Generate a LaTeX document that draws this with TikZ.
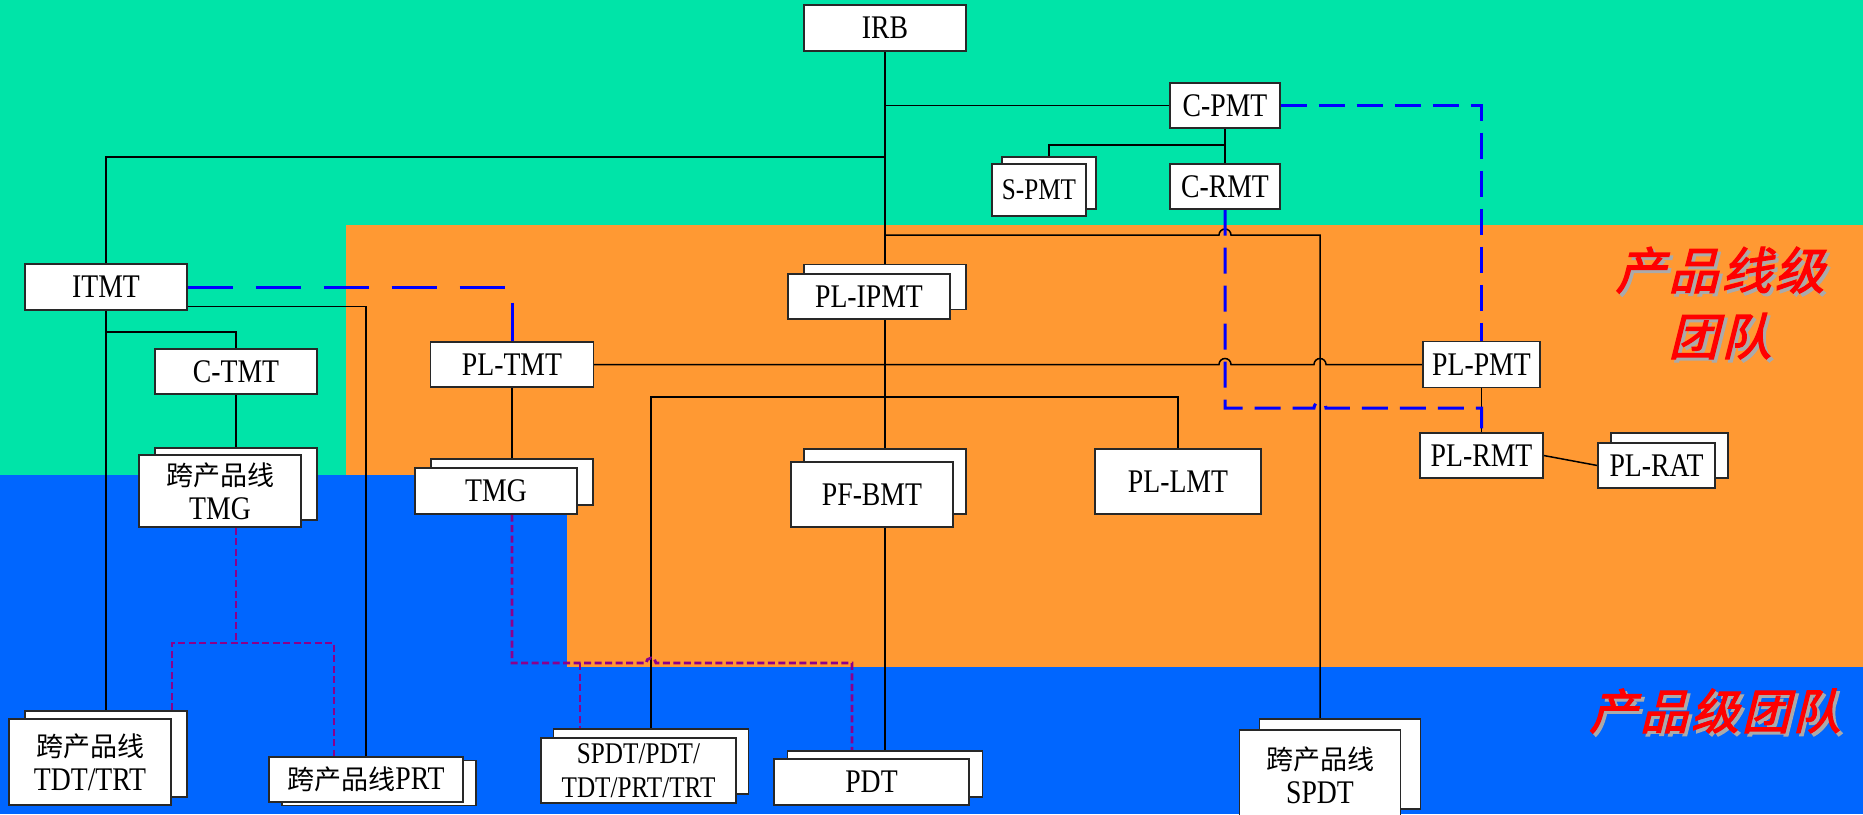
\documentclass[tikz,border=0pt]{standalone}
\usepackage{fontspec}
\setmainfont{Liberation Serif}[FakeStretch=0.84]
\newfontfamily\cjk{Noto Sans CJK SC}
\newfontfamily\redcjk{Noto Sans CJK SC}[FakeSlant=0.25,FakeBold=2.5,LetterSpace=6]
\usetikzlibrary{calc}
\pgfdeclarelayer{bg}\pgfdeclarelayer{lines}
\pgfsetlayers{bg,lines,main}
\definecolor{bggreen}{RGB}{0,228,168}
\definecolor{bgorange}{RGB}{255,153,51}
\definecolor{bgblue}{RGB}{0,102,255}
\definecolor{dashblue}{RGB}{0,0,255}
\definecolor{dpurple}{RGB}{140,0,140}
\definecolor{redtxt}{RGB}{255,0,0}
\definecolor{shadowgray}{RGB}{170,170,170}
\definecolor{boxline}{RGB}{40,40,40}
\newcommand\cjkt[1]{{\cjk\fontsize{27}{34}\selectfont #1}}
\begin{document}
\begin{tikzpicture}[x=1pt,y=-1pt,
  box/.style={draw=boxline, fill=white, line width=1.3pt, inner sep=0pt, align=center, font=\fontsize{33}{34}\selectfont},
  smallbox/.style={box, font=\fontsize{30}{34}\selectfont},
  conn/.style={line width=1.5pt, black},
  bluedash/.style={dashblue, line width=3pt, dash pattern=on 26pt off 12pt},
  bluelong/.style={dashblue, line width=3pt, dash pattern=on 45pt off 23pt},
  purpdash/.style={dpurple, line width=2.8pt, dash pattern=on 7pt off 3.5pt},
  redlabel/.style={font=\redcjk\fontsize{50}{66}\selectfont, inner sep=0pt, align=center}]
\useasboundingbox (0,0) rectangle (1863,814);
\begin{pgfonlayer}{bg}
  \fill[bggreen] (0,0) rectangle (1863,814);
  \fill[bgblue] (0,475) rectangle (1863,814);
  \fill[bgorange] (346,225) rectangle (1863,475);
  \fill[bgorange] (567,475) rectangle (1863,667);
\end{pgfonlayer}

% ---------- nodes ----------
\node[box, minimum width=162pt, minimum height=46pt] (irb) at (885,28) {IRB};
\node[box, minimum width=110pt, minimum height=45pt] (cpmt) at (1225,105.5) {C-PMT};
\node[box, minimum width=110pt, minimum height=45pt] (crmt) at (1225,186.5) {C-RMT};
\node[smallbox, minimum width=94pt, minimum height=52pt] (spmtB) at (1049,183) {};
\node[smallbox, minimum width=94pt, minimum height=52pt] (spmt) at (1039,190) {S-PMT};
\node[box, minimum width=162pt, minimum height=46pt] (itmt) at (106,287) {ITMT};
\node[box, minimum width=162pt, minimum height=45pt] (ctmt) at (236,371.5) {C-TMT};
\node[box, minimum width=162pt, minimum height=72pt] (ctmgB) at (236,484) {};
\node[box, minimum width=162pt, minimum height=72pt] (ctmg) at (220,491) {\cjkt{跨产品线}\\TMG};
\node[box, minimum width=162pt, minimum height=86pt] (ctdtB) at (106,754) {};
\node[box, minimum width=162pt, minimum height=86pt] (ctdt) at (90,762) {\cjkt{跨产品线}\\TDT/TRT};
\node[box, minimum width=194pt, minimum height=45pt] (cprtB) at (379,783) {};
\node[box, minimum width=194pt, minimum height=45pt] (cprt) at (366,779.5) {\cjkt{跨产品线}PRT};
\node[box, minimum width=163pt, minimum height=45pt] (pltmt) at (512,364.5) {PL-TMT};
\node[box, minimum width=162pt, minimum height=46pt] (tmgB) at (512,482) {};
\node[box, minimum width=162pt, minimum height=46pt] (tmg) at (496,491) {TMG};
\node[box, minimum width=162pt, minimum height=45pt] (ipmtB) at (885,287) {};
\node[box, minimum width=162pt, minimum height=45pt] (ipmt) at (869,296.5) {PL-IPMT};
\node[box, minimum width=162pt, minimum height=65pt] (pfbmtB) at (885,481.5) {};
\node[box, minimum width=162pt, minimum height=65pt] (pfbmt) at (872,494.5) {PF-BMT};
\node[box, minimum width=166pt, minimum height=65pt] (pllmt) at (1178,481.5) {PL-LMT};
\node[box, minimum width=195pt, minimum height=46pt] (pdtB) at (885,774) {};
\node[box, minimum width=195pt, minimum height=46pt] (pdt) at (871.5,782) {PDT};
\node[smallbox, minimum width=195pt, minimum height=65pt] (spdtB) at (651,761.5) {};
\node[smallbox, minimum width=195pt, minimum height=65pt] (spdt) at (638.5,770.5) {SPDT/PDT/\\TDT/PRT/TRT};
\node[box, minimum width=161pt, minimum height=90pt] (cspdtB) at (1340,764) {};
\node[box, minimum width=161pt, minimum height=90pt] (cspdt) at (1320,775) {\cjkt{跨产品线}\\SPDT};
\node[box, minimum width=117pt, minimum height=46pt] (plpmt) at (1481.5,364.5) {PL-PMT};
\node[box, minimum width=123pt, minimum height=45pt] (plrmt) at (1481.5,455.5) {PL-RMT};
\node[box, minimum width=117pt, minimum height=45pt] (plratB) at (1669.5,455.5) {};
\node[box, minimum width=117pt, minimum height=45pt] (plrat) at (1656.5,465.5) {PL-RAT};

% red labels with shadow
\node[redlabel, text=shadowgray] (lvl1s) at (1723,306) {产品线级\\团队};
\node[redlabel, text=redtxt] (lvl1) at (1720,303) {产品线级\\团队};
\node[redlabel, text=shadowgray, font=\redcjk\fontsize{48}{66}\selectfont] (lvl2s) at (1718,714) {产品级团队};
\node[redlabel, text=redtxt, font=\redcjk\fontsize{48}{66}\selectfont] (lvl2) at (1715,711) {产品级团队};

% ---------- connectors ----------
\begin{pgfonlayer}{lines}
  \coordinate (yA) at (0,157);
  \coordinate (yB) at (0,235);
  \coordinate (yC) at (0,145);
  \coordinate (yD) at (0,332);
  \coordinate (yE) at (0,397);
  \coordinate (yF) at (0,408);
  \coordinate (yG) at (0,643);
  \coordinate (yH) at (0,663);
  \coordinate (pL) at (172,643);
  \coordinate (pR) at (334,643);
  \coordinate (pQ) at (852,663);
  \coordinate (pS) at (580,663);
  \coordinate (hB) at (crmt.south |- yB);
  \coordinate (h1) at (crmt.south |- pltmt.east);
  \coordinate (h2) at (cspdt.north |- pltmt.east);
  \coordinate (h3) at (cspdt.north |- yF);
  \coordinate (h4) at (spdtB.north |- yH);

  \draw[conn] (irb.south) -- (ipmtB.north);
  \draw[conn] (irb.south |- cpmt.west) -- (cpmt.west);
  \draw[conn] (irb.south |- yA) -| (itmt.north);
  \draw[conn] (irb.south |- yB) -- ([xshift=-6pt]hB) arc[start angle=180,end angle=0,radius=6pt] -- (cspdt.north |- yB) -- (cspdt.north);
  \draw[conn] (cpmt.south) -- (crmt.north);
  \draw[conn] (cpmt.south |- yC) -| (spmtB.north);
  \draw[conn] (itmt.south) -- (ctdtB.north);
  \draw[conn] ([yshift=4pt]itmt.south east) -| (cprt.north);
  \draw[conn] (itmt.south |- yD) -| (ctmt.north);
  \draw[conn] (ctmt.south) -- (ctmgB.north);
  \draw[conn] (pltmt.east) -- ([xshift=-6pt]h1) arc[start angle=180,end angle=0,radius=6pt]
     -- ([xshift=-6pt]h2) arc[start angle=180,end angle=0,radius=6pt] -- (plpmt.west);
  \draw[conn] (pltmt.south) -- (tmgB.north);
  \draw[conn] (ipmtB.south |- ipmt.south) -- (pfbmtB.north);
  \draw[conn] (pfbmtB.south |- pfbmt.south) -- (pdtB.north);
  \draw[conn] (spdtB.north) |- (pllmt.north |- yE) -- (pllmt.north);
  \draw[conn] (plpmt.south) -- (plrmt.north);
  \draw[conn] (plrmt.east) -- (plrat.west);

  \draw[bluelong] (itmt.east) -| (pltmt.north);
  \draw[bluedash] (cpmt.east) -| (plpmt.north);
  \draw[bluedash] (crmt.south) -- (crmt.south |- yF) -- ([xshift=-6pt]h3) arc[start angle=180,end angle=0,radius=6pt] -- (plrmt.north |- yF) -- (plrmt.north);

  \draw[purpdash] (ctmgB.south |- ctmg.south) -- (ctmgB.south |- yG);
  \draw[purpdash] (ctdtB.north -| pL) |- (pR) -- (cprt.north -| pR);
  \draw[purpdash] (tmgB.south |- tmg.south) -- (tmgB.south |- yH) -- ([xshift=-5pt]h4) arc[start angle=180,end angle=0,radius=5pt] -- (pQ) -- (pdtB.north -| pQ);
  \draw[purpdash] (pS) -- (spdt.north -| pS);
\end{pgfonlayer}
\end{tikzpicture}
\end{document}
